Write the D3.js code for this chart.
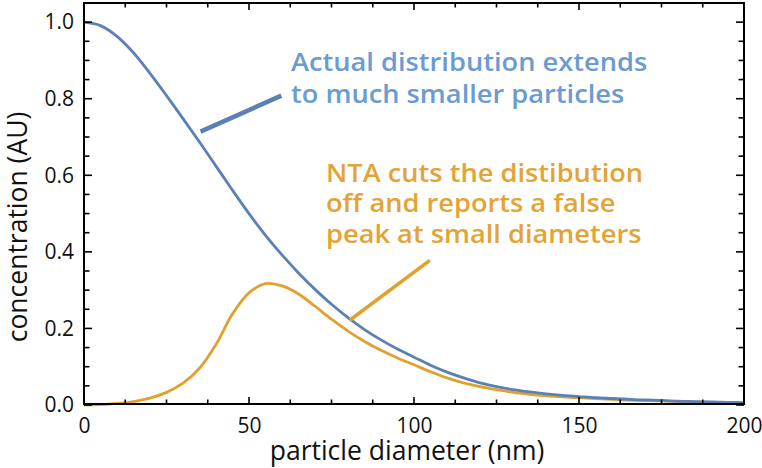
<!DOCTYPE html>
<html>
<head>
<meta charset="utf-8">
<script src="https://cdn.jsdelivr.net/npm/d3@7/dist/d3.min.js"></script>
<style>
  body { margin: 0; background: #fff; }
  svg { display: block; font-family: "Open Sans", "Noto Sans", sans-serif; }
</style>
</head>
<body>
<svg id="chart" width="762" height="468"></svg>
<script>
// ---- data ----
const diameters = [0,5,10,15,20,25,30,35,40,45,50,55,60,65,70,75,80,85,90,95,100,105,110,115,120,125,130,135,140,145,150,155,160,165,170,175,180,185,190,195,200];
const actual = [1.000,0.991,0.963,0.920,0.866,0.808,0.748,0.687,0.624,0.561,0.500,0.443,0.392,0.345,0.302,0.263,0.228,0.197,0.170,0.146,0.125,0.104,0.086,0.071,0.058,0.048,0.040,0.034,0.029,0.025,0.022,0.019,0.017,0.015,0.013,0.012,0.010,0.009,0.008,0.007,0.006];
const nta = [0.000,0.001,0.004,0.009,0.018,0.033,0.057,0.096,0.158,0.238,0.293,0.317,0.311,0.290,0.258,0.224,0.193,0.166,0.143,0.123,0.105,0.087,0.071,0.058,0.048,0.040,0.033,0.028,0.024,0.021,0.019,0.017,0.015,0.013,0.012,0.011,0.009,0.008,0.007,0.006,0.005];
const xTickValues = [0,50,100,150,200];
const yTickValues = [0.0,0.2,0.4,0.6,0.8,1.0];
const xLabel = "particle diameter (nm)";
const yLabel = "concentration (AU)";
const blueNote = ["Actual distribution extends","to much smaller particles"];
const orangeNote = ["NTA cuts the distibution","off and reports a false","peak at small diameters"];
const blueArrow = [[35.3,0.714],[59.8,0.808]];
const orangeArrow = [[80.6,0.222],[104.8,0.378]];

// ---- layout ----
const svg = d3.select("#chart");
const L = 84, R = 744, T = 3, B = 404;
const x = d3.scaleLinear().domain([0,200]).range([L,R]);
const y = d3.scaleLinear().domain([0,1.05]).range([B+1,T]);

const blueLine = "#5b80b6", orangeLine = "#e0a12e";
const blueText = "#6b9bd0", orangeText = "#e3a435";

// curves
const pts = (arr) => diameters.map((d,i)=>[d,arr[i]]);
const line = d3.line().x(d=>x(d[0])).y(d=>y(d[1])).curve(d3.curveCatmullRom.alpha(0.5));
const g = svg.append("g");
g.append("path").attr("d", line(pts(nta))).attr("fill","none").attr("stroke",orangeLine).attr("stroke-width",2.8);
g.append("path").attr("d", line(pts(actual))).attr("fill","none").attr("stroke",blueLine).attr("stroke-width",2.8);

// annotation lines
svg.append("line").attr("x1",x(blueArrow[0][0])).attr("y1",y(blueArrow[0][1])).attr("x2",x(blueArrow[1][0])).attr("y2",y(blueArrow[1][1]))
  .attr("stroke",blueLine).attr("stroke-width",4.5);
svg.append("line").attr("x1",x(orangeArrow[0][0])).attr("y1",y(orangeArrow[0][1])).attr("x2",x(orangeArrow[1][0])).attr("y2",y(orangeArrow[1][1]))
  .attr("stroke",orangeLine).attr("stroke-width",3.5);

// frame
svg.append("rect").attr("x",L).attr("y",T).attr("width",R-L).attr("height",B-T)
  .attr("fill","none").attr("stroke","#000").attr("stroke-width",2);

// ticks
const xMinor = d3.range(0,200.01,12.5);
const yMinor = d3.range(0,1.051,0.05);
const tg = svg.append("g").attr("stroke","#000").attr("stroke-width",1.6);
xMinor.forEach(v=>{
  const major = Math.abs(v%50)<1e-6;
  const len = major?7:4.5;
  tg.append("line").attr("x1",x(v)).attr("x2",x(v)).attr("y1",B).attr("y2",B-len);
  tg.append("line").attr("x1",x(v)).attr("x2",x(v)).attr("y1",T).attr("y2",T+len);
});
yMinor.forEach(v=>{
  const r = Math.round(v*100);
  const major = r%20===0;
  const len = major?8:5.5;
  tg.append("line").attr("y1",y(v)).attr("y2",y(v)).attr("x1",L).attr("x2",L+len);
  tg.append("line").attr("y1",y(v)).attr("y2",y(v)).attr("x1",R).attr("x2",R-len);
});

// tick labels via axes (no lines)
const xAxis = svg.append("g").attr("transform",`translate(0,${B})`)
  .call(d3.axisBottom(x).tickValues(xTickValues).tickFormat(d3.format("d")).tickSize(0).tickPadding(14));
const yAxis = svg.append("g").attr("transform",`translate(${L},0)`)
  .call(d3.axisLeft(y).tickValues(yTickValues).tickFormat(d3.format(".1f")).tickSize(0).tickPadding(10));
[xAxis,yAxis].forEach(a=>{
  a.select(".domain").remove();
  a.selectAll("text").attr("font-size",21).attr("fill","#111").attr("font-family","'Open Sans', sans-serif");
});

// axis titles
svg.append("text").attr("x",407).attr("y",460).attr("text-anchor","middle")
  .attr("font-size",26.5).attr("fill","#111").text(xLabel);
svg.append("text").attr("transform","translate(27,227) rotate(-90)").attr("text-anchor","middle")
  .attr("font-size",26.5).attr("fill","#111").text(yLabel);

// notes (slightly widened glyphs as in the reference)
const sx = 1.09;
const bn = svg.append("g").attr("transform",`translate(291,71) scale(${sx},1)`)
  .append("text").attr("font-size",25).attr("font-weight",600).attr("fill",blueText);
blueNote.forEach((t,i)=>bn.append("tspan").attr("x",0).attr("dy",i?31.8:0).text(t));
const on = svg.append("g").attr("transform",`translate(326,181.5) scale(${sx},1)`)
  .append("text").attr("font-size",25).attr("font-weight",600).attr("fill",orangeText);
orangeNote.forEach((t,i)=>on.append("tspan").attr("x",0).attr("dy",i?31:0).text(t));
</script>
</body>
</html>
